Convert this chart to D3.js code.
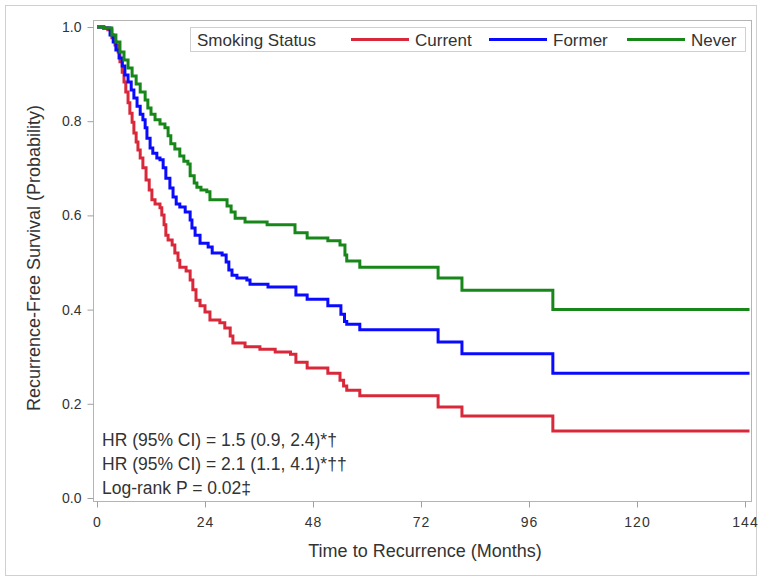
<!DOCTYPE html>
<html>
<head>
<meta charset="utf-8">
<script src="https://cdn.jsdelivr.net/npm/d3@7"></script>
<style>
  body { margin: 0; background: #fff; }
  text { font-family: Arial, "Liberation Sans", sans-serif; fill: #333; }
</style>
</head>
<body>
<svg id="chart" width="760" height="579"></svg>
<script>
// Kaplan-Meier steps: [month, survival]
var currentCurve = [
  [0, 1.0], [1.5, 0.998], [2.4, 0.994], [3.3, 0.977], [4.0, 0.962], [4.7, 0.947],
  [5.1, 0.926], [5.6, 0.904], [6.0, 0.883], [6.4, 0.862], [6.9, 0.839], [7.3, 0.817],
  [7.8, 0.798], [8.2, 0.775], [8.7, 0.756], [9.1, 0.739], [9.6, 0.722], [10.2, 0.701],
  [10.9, 0.675], [11.6, 0.654], [12.2, 0.633], [12.9, 0.624], [14.0, 0.616], [14.4, 0.601],
  [14.9, 0.580], [15.3, 0.558], [15.8, 0.548], [16.7, 0.537], [17.3, 0.520], [18.0, 0.505],
  [18.4, 0.490], [19.8, 0.482], [20.7, 0.463], [21.3, 0.442], [22.0, 0.420], [22.9, 0.408],
  [24.0, 0.395], [25.1, 0.378], [27.3, 0.372], [28.4, 0.361], [29.6, 0.344], [30.2, 0.329],
  [32.9, 0.321], [36.2, 0.316], [39.6, 0.310], [43.0, 0.305], [44.2, 0.288], [46.7, 0.276],
  [51.3, 0.265], [54.0, 0.25], [54.8, 0.238], [55.5, 0.229], [58.4, 0.217], [75.8, 0.193],
  [81.1, 0.174], [101.3, 0.142], [145, 0.142]
];
var formerCurve = [
  [0, 1.0], [1.5, 0.998], [2.9, 0.983], [3.6, 0.968], [4.2, 0.951], [4.9, 0.934],
  [5.6, 0.917], [6.2, 0.898], [6.9, 0.883], [7.6, 0.866], [8.2, 0.849], [8.9, 0.832],
  [9.6, 0.815], [10.2, 0.803], [10.7, 0.786], [11.1, 0.764], [11.8, 0.743], [12.4, 0.732],
  [13.3, 0.722], [14.0, 0.718], [14.7, 0.701], [15.3, 0.679], [16.2, 0.658], [16.9, 0.639],
  [17.6, 0.624], [18.4, 0.618], [19.6, 0.607], [20.7, 0.590], [21.1, 0.573], [21.8, 0.558],
  [22.9, 0.541], [24.7, 0.533], [25.6, 0.520], [27.8, 0.516], [28.7, 0.501], [29.3, 0.484],
  [30.0, 0.473], [31.1, 0.467], [33.3, 0.463], [34.0, 0.454], [38.0, 0.448], [44.2, 0.431],
  [46.7, 0.422], [51.3, 0.408], [54.2, 0.39], [55.0, 0.375], [55.5, 0.369], [58.4, 0.357],
  [75.8, 0.331], [81.1, 0.306], [101.3, 0.265], [145, 0.265]
];
var neverCurve = [
  [0, 1.0], [1.5, 0.998], [3.3, 0.983], [4.2, 0.968], [5.1, 0.947], [6.0, 0.930],
  [6.9, 0.913], [7.8, 0.896], [8.7, 0.879], [9.6, 0.862], [10.7, 0.845], [11.3, 0.828],
  [12.0, 0.815], [12.9, 0.803], [14.0, 0.794], [15.1, 0.786], [15.8, 0.769], [16.4, 0.752],
  [17.3, 0.741], [18.4, 0.726], [19.3, 0.715], [20.2, 0.709], [20.7, 0.684], [21.6, 0.669],
  [22.2, 0.660], [23.1, 0.654], [24.4, 0.650], [25.1, 0.633], [28.0, 0.633], [28.9, 0.620],
  [29.8, 0.607], [30.7, 0.594], [32.9, 0.586], [37.8, 0.580], [44.0, 0.563], [46.7, 0.552],
  [51.3, 0.546], [54.0, 0.537], [55.1, 0.516], [55.5, 0.503], [58.4, 0.490], [75.8, 0.467],
  [81.1, 0.441], [101.3, 0.400], [145, 0.400]
];

var seriesNames = ["Current", "Former", "Never"];
var seriesColors = ["#d9283a", "#0a0aff", "#17871a"];
var xTicks = [0, 24, 48, 72, 96, 120, 144];
var yTicks = [0.0, 0.2, 0.4, 0.6, 0.8, 1.0];
var statLines = [
  "HR (95% CI) = 1.5 (0.9, 2.4)*\u2020",
  "HR (95% CI) = 2.1 (1.1, 4.1)*\u2020\u2020",
  "Log-rank P = 0.02\u2021"
];

var svg = d3.select("#chart");

// outer border
svg.append("rect")
  .attr("x", 5.5).attr("y", 5.5).attr("width", 751).attr("height", 570)
  .attr("fill", "none").attr("stroke", "#d0d0d0");

var frame = {left: 93, top: 20, right: 751, bottom: 501};

var x = d3.scaleLinear().domain([0, 144]).range([97, 745]);
var y = d3.scaleLinear().domain([0, 1]).range([498, 27]);

// plot frame
svg.append("rect")
  .attr("x", frame.left + 0.5).attr("y", frame.top + 0.5)
  .attr("width", frame.right - frame.left).attr("height", frame.bottom - frame.top)
  .attr("fill", "none").attr("stroke", "#b4b4b4");

var xAxis = svg.append("g")
  .attr("transform", "translate(0," + (frame.bottom + 0.5) + ")")
  .call(d3.axisBottom(x).tickValues(xTicks).tickSize(6).tickPadding(10)
    .tickFormat(d3.format("d")));

var yAxis = svg.append("g")
  .attr("transform", "translate(" + (frame.left + 0.5) + ",0)")
  .call(d3.axisLeft(y).tickValues(yTicks).tickSize(6).tickPadding(6)
    .tickFormat(d3.format(".1f")));

[xAxis, yAxis].forEach(function (g) {
  g.select(".domain").remove();
  g.selectAll(".tick line").attr("stroke", "#a0a0a0");
  g.selectAll(".tick text")
    .style("font-family", "Arial, 'Liberation Sans', sans-serif")
    .style("font-size", "14px")
    .attr("fill", "#333");
});
xAxis.selectAll(".tick text").style("letter-spacing", "1px");

// axis titles
svg.append("text")
  .attr("x", 425).attr("y", 557)
  .attr("text-anchor", "middle")
  .style("font-size", "18px")
  .text("Time to Recurrence (Months)");

svg.append("text")
  .attr("transform", "translate(40," + 258 + ") rotate(-90)")
  .attr("text-anchor", "middle")
  .style("font-size", "18px")
  .text("Recurrence-Free Survival (Probability)");

// curves
var line = d3.line()
  .x(function (d) { return x(d[0]); })
  .y(function (d) { return y(d[1]); })
  .curve(d3.curveStepAfter);

[currentCurve, formerCurve, neverCurve].forEach(function (c, i) {
  svg.append("path")
    .datum(c)
    .attr("d", line)
    .attr("fill", "none")
    .attr("stroke", seriesColors[i])
    .attr("stroke-width", 3)
    .attr("stroke-linejoin", "miter");
});

// legend
var legend = svg.append("g");
legend.append("rect")
  .attr("x", 190.5).attr("y", 27.5).attr("width", 555).attr("height", 24)
  .attr("fill", "#fff").attr("stroke", "#d0d0d0");
legend.append("text")
  .attr("x", 197).attr("y", 46)
  .style("font-size", "17px")
  .text("Smoking Status");

var legendX = [351, 489, 627];
seriesNames.forEach(function (name, i) {
  legend.append("line")
    .attr("x1", legendX[i]).attr("x2", legendX[i] + 58)
    .attr("y1", 39.5).attr("y2", 39.5)
    .attr("stroke", seriesColors[i]).attr("stroke-width", 3);
  legend.append("text")
    .attr("x", legendX[i] + 64).attr("y", 46)
    .style("font-size", "17px")
    .text(name);
});

// statistics
svg.selectAll("text.stat")
  .data(statLines)
  .enter().append("text")
  .attr("class", "stat")
  .attr("x", 102)
  .attr("y", function (d, i) { return 446 + i * 24; })
  .style("font-size", "17.5px")
  .text(function (d) { return d; });
</script>
</body>
</html>
